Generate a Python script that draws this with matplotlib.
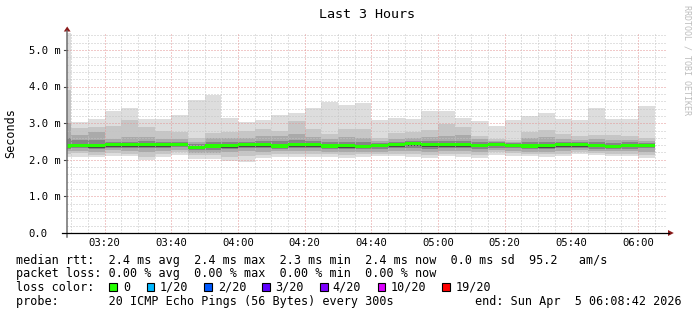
import matplotlib
matplotlib.use("Agg")
import matplotlib.pyplot as plt
import matplotlib.transforms as mtransforms
from matplotlib.patches import Rectangle, Polygon
from matplotlib.lines import Line2D
import numpy as np

# ---------------- data ----------------
# bar start (minutes after 03:00), each bar spans 5 minutes (300 s step)
bar_start = [5, 10, 15, 20, 25, 30, 35, 40, 45, 50, 55, 60, 65, 70, 75, 80, 85, 90,
             95, 100, 105, 110, 115, 120, 125, 130, 135, 140, 145, 150, 155, 160,
             165, 170, 175, 180]
# smoke band edges (ms), outer -> inner
hi1 = [5.60, 3.04, 3.11, 3.34, 3.42, 3.11, 3.11, 3.22, 3.63, 3.78, 3.15, 3.02, 3.09, 3.22,
       3.29, 3.42, 3.59, 3.50, 3.56, 3.09, 3.15, 3.11, 3.34, 3.34, 3.15, 3.05, 2.92, 3.09,
       3.20, 3.29, 3.11, 3.09, 3.42, 3.11, 3.11, 3.47]
hi2 = [3.90, 2.88, 2.90, 2.92, 3.08, 2.90, 2.80, 2.75, 2.60, 2.73, 2.76, 2.80, 2.84, 2.80,
       3.07, 2.85, 2.70, 2.85, 2.85, 2.60, 2.72, 2.75, 2.82, 2.98, 2.90, 2.65, 2.58, 2.55,
       2.75, 2.82, 2.70, 2.65, 2.68, 2.68, 2.65, 2.60]
hi3 = [3.00, 2.68, 2.75, 2.58, 2.62, 2.62, 2.56, 2.56, 2.50, 2.60, 2.60, 2.60, 2.64, 2.64,
       2.70, 2.62, 2.58, 2.62, 2.60, 2.52, 2.58, 2.60, 2.62, 2.65, 2.68, 2.56, 2.52, 2.50,
       2.60, 2.62, 2.58, 2.55, 2.56, 2.55, 2.55, 2.52]
hi4 = [2.60, 2.55, 2.55, 2.50, 2.50, 2.52, 2.50, 2.50, 2.42, 2.48, 2.48, 2.50, 2.52, 2.52,
       2.55, 2.52, 2.50, 2.50, 2.50, 2.47, 2.50, 2.52, 2.52, 2.52, 2.52, 2.50, 2.48, 2.46,
       2.50, 2.50, 2.50, 2.48, 2.48, 2.46, 2.48, 2.47]
median = [2.38, 2.39, 2.39, 2.42, 2.41, 2.42, 2.42, 2.41, 2.34, 2.38, 2.39, 2.42, 2.42, 2.38,
          2.41, 2.41, 2.38, 2.39, 2.37, 2.39, 2.42, 2.45, 2.42, 2.42, 2.42, 2.39, 2.42, 2.40,
          2.38, 2.39, 2.41, 2.41, 2.39, 2.37, 2.39, 2.40]
lo5 = [2.33, 2.34, 2.33, 2.36, 2.35, 2.35, 2.36, 2.37, 2.29, 2.32, 2.33, 2.36, 2.36, 2.33,
       2.35, 2.35, 2.33, 2.33, 2.32, 2.34, 2.36, 2.38, 2.35, 2.36, 2.36, 2.34, 2.37, 2.35,
       2.33, 2.33, 2.35, 2.36, 2.34, 2.33, 2.34, 2.35]
lo4 = [2.30, 2.31, 2.30, 2.33, 2.32, 2.31, 2.32, 2.34, 2.26, 2.28, 2.30, 2.32, 2.32, 2.30,
       2.32, 2.32, 2.30, 2.30, 2.29, 2.30, 2.32, 2.33, 2.30, 2.32, 2.32, 2.30, 2.33, 2.31,
       2.29, 2.29, 2.31, 2.32, 2.30, 2.29, 2.30, 2.31]
lo3 = [2.24, 2.25, 2.20, 2.26, 2.25, 2.20, 2.25, 2.28, 2.18, 2.18, 2.22, 2.24, 2.22, 2.24,
       2.25, 2.25, 2.22, 2.22, 2.22, 2.22, 2.24, 2.24, 2.20, 2.25, 2.24, 2.22, 2.27, 2.25,
       2.22, 2.22, 2.24, 2.26, 2.25, 2.24, 2.24, 2.22]
lo2 = [2.16, 2.18, 2.14, 2.18, 2.17, 2.09, 2.17, 2.20, 2.12, 2.12, 2.08, 2.10, 2.14, 2.16,
       2.16, 2.17, 2.15, 2.14, 2.15, 2.16, 2.17, 2.15, 2.12, 2.17, 2.15, 2.13, 2.20, 2.18,
       2.17, 2.16, 2.17, 2.20, 2.19, 2.17, 2.17, 2.14]
lo1 = [2.08, 2.08, 2.07, 2.10, 2.10, 1.99, 2.08, 2.12, 2.02, 2.02, 1.98, 1.95, 2.04, 2.07,
       2.07, 2.08, 2.07, 2.05, 2.07, 2.10, 2.10, 2.07, 2.04, 2.10, 2.07, 2.04, 2.13, 2.10,
       2.10, 2.08, 2.10, 2.16, 2.13, 2.10, 2.10, 2.05]

x_tick_pos = [20, 40, 60, 80, 100, 120, 140, 160, 180]
x_tick_labels = ["03:20", "03:40", "04:00", "04:20", "04:40", "05:00", "05:20", "05:40", "06:00"]
y_tick_vals = [0, 1, 2, 3, 4, 5]
y_tick_labels = ["0.0", "1.0 m", "2.0 m", "3.0 m", "4.0 m", "5.0 m"]

loss_labels = ["0", "1/20", "2/20", "3/20", "4/20", "10/20", "19/20"]
loss_colors = ["#26ff00", "#00b8ff", "#0059ff", "#5e00ff", "#7e00ff", "#dd00ff", "#ff0000"]

title = "Last 3 Hours"
line_rtt = "median rtt:  2.4 ms avg  2.4 ms max  2.3 ms min  2.4 ms now  0.0 ms sd  95.2   am/s"
line_loss = "packet loss: 0.00 % avg  0.00 % max  0.00 % min  0.00 % now"
line_probe = "probe:       20 ICMP Echo Pings (56 Bytes) every 300s"
line_end = "end: Sun Apr  5 06:08:42 2026"

# ---------------- figure ----------------
W, H = 697, 315
MONO = "DejaVu Sans Mono"
fig = plt.figure(figsize=(W / 100, H / 100), dpi=100, facecolor="white")


def fx(px):
    return px / W


def fy(py):
    return 1 - py / H


ax = fig.add_axes([fx(67), fy(233), 600 / W, 200 / H])
ax.set_xlim(8.7, 188.7)
ax.set_ylim(0, 200 / 36.6)
ax.set_facecolor("white")
for s in ax.spines.values():
    s.set_visible(False)

edges = bar_start + [bar_start[-1] + 5]


def ext(a):
    return list(a) + [a[-1]]


layers = [(lo1, hi1, "#dddddd"), (lo2, hi2, "#c6c6c6"), (lo3, hi3, "#aaaaaa"),
          (lo4, hi4, "#858585"), (lo5, median, "#4a4a4a")]
for lo, hi, col in layers:
    ax.fill_between(edges, ext(lo), ext(hi), step="post", color=col, linewidth=0,
                    zorder=1, antialiased=False)

# grid
minor_kw = dict(color="#c4c4c4", lw=0.72, ls=(0, (1, 2)), zorder=2)
major_kw = dict(color="#e49494", lw=0.72, ls=(0, (1, 2)), zorder=2)
for v in np.arange(0.2, 5.45, 0.2):
    if abs(v - round(v)) < 1e-6:
        ax.axhline(v, **major_kw)
    else:
        ax.axhline(v, **minor_kw)
for m in range(10, 189, 5):
    if m % 20 == 0:
        ax.axvline(m, **major_kw)
    else:
        ax.axvline(m, **minor_kw)

# median band (loss colour)
sw = 0.045
ax.fill_between(edges, [m - sw for m in ext(median)], [m + sw for m in ext(median)],
                step="post", color=loss_colors[0], linewidth=0, zorder=3, antialiased=False)

ax.set_xticks([])
ax.set_yticks([])

# tick labels
tx = mtransforms.blended_transform_factory(ax.transData, fig.transFigure)
for p, lab in zip(x_tick_pos, x_tick_labels):
    ax.text(p, fy(245.5), lab, transform=tx, ha="center", va="baseline",
            fontsize=7.6, family=MONO, color="black")
ty = mtransforms.offset_copy(mtransforms.blended_transform_factory(fig.transFigure, ax.transData),
                             fig=fig, x=0, y=-3.9, units="dots")
for v, lab in zip(y_tick_vals, y_tick_labels):
    ax.text(fx(28.7), v, lab, transform=ty, ha="left", va="baseline",
            fontsize=7.6, family=MONO, color="black")

# tick marks
tk = mtransforms.blended_transform_factory(fig.transFigure, ax.transData)
for v in y_tick_vals[1:]:
    fig.add_artist(Line2D([fx(64), fx(67)], [v, v], transform=tk, color="#444444", lw=0.8))

# axes lines and arrows
fig.add_artist(Line2D([fx(67), fx(67)], [fy(237), fy(31)], color="#6e6e6e", lw=1.1))
fig.add_artist(Line2D([fx(62), fx(669)], [fy(233), fy(233)], color="black", lw=0.9))
fig.add_artist(Polygon([[fx(63.8), fy(31.5)], [fx(70.6), fy(31.5)], [fx(67.2), fy(26.5)]],
                       closed=True, transform=fig.transFigure, fc="#8b1a1a", ec="none"))
fig.add_artist(Polygon([[fx(668), fy(230)], [fx(668), fy(236)], [fx(673.8), fy(233)]],
                       closed=True, transform=fig.transFigure, fc="#8b1a1a", ec="none"))

# title, unit label, watermark
fig.text(fx(366.5), fy(18.3), title, ha="center", va="baseline", fontsize=9.6, family=MONO)
fig.text(fx(11), fy(133.5), "Seconds", rotation=90, ha="center", va="center",
         fontsize=8.5, family=MONO)
fig.text(fx(687.5), fy(5), "RRDTOOL / TOBI OETIKER", rotation=270, ha="center", va="top",
         fontsize=6.0, family=MONO, color="#bdbdbd")

# legend
fs = 8.5
fig.text(fx(15.5), fy(264), line_rtt, ha="left", va="baseline", fontsize=fs, family=MONO)
fig.text(fx(15.5), fy(277.5), line_loss, ha="left", va="baseline", fontsize=fs, family=MONO)
fig.text(fx(15.5), fy(291), "loss color:", ha="left", va="baseline", fontsize=fs, family=MONO)
box_x = [109, 146.7, 204, 262, 320, 377.8, 442]
lab_x = [123.2, 159.6, 218.3, 275.2, 332.6, 390.6, 455.2]
for bx, lx, lab, col in zip(box_x, lab_x, loss_labels, loss_colors):
    fig.add_artist(Rectangle((fx(bx), fy(291)), 7.5 / W, 7.7 / H, transform=fig.transFigure,
                             fc=col, ec="black", lw=0.8))
    fig.text(fx(lx), fy(291), lab, ha="left", va="baseline", fontsize=fs, family=MONO)
fig.text(fx(15.5), fy(305), line_probe, ha="left", va="baseline", fontsize=fs, family=MONO)
fig.text(fx(682), fy(305), line_end, ha="right", va="baseline", fontsize=fs, family=MONO)

fig.savefig("out.png", dpi=100, facecolor="white")
